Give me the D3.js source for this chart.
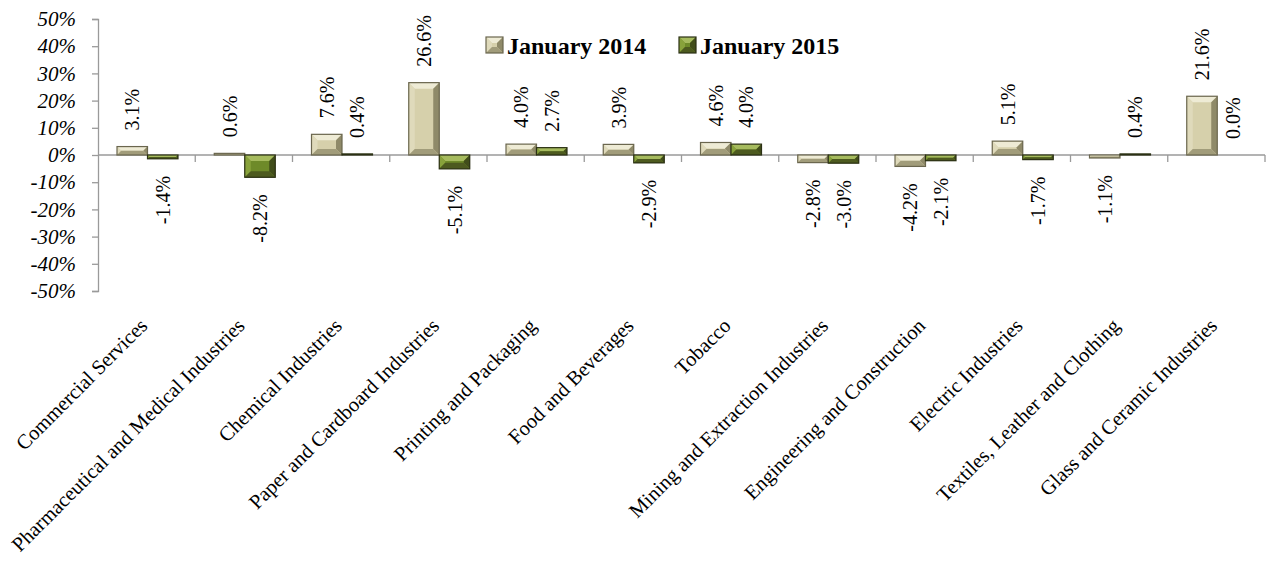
<!DOCTYPE html>
<html>
<head>
<meta charset="utf-8">
<script src="https://cdn.jsdelivr.net/npm/d3@7"></script>
<style>
  body { margin: 0; background: #fff; }
  svg { display: block; }
  text { font-family: "Liberation Serif", "Times New Roman", serif; }
</style>
</head>
<body>
<svg id="chart" width="1266" height="561"></svg>
<script>
const categories = [
  "Commercial Services",
  "Pharmaceutical and Medical Industries",
  "Chemical Industries",
  "Paper and Cardboard Industries",
  "Printing and Packaging",
  "Food and Beverages",
  "Tobacco",
  "Mining and Extraction Industries",
  "Engineering and Construction",
  "Electric Industries",
  "Textiles, Leather and Clothing",
  "Glass and Ceramic Industries"
];
const seriesNames = ["January 2014", "January 2015"];
const jan2014 = [3.1, 0.6, 7.6, 26.6, 4.0, 3.9, 4.6, -2.8, -4.2, 5.1, -1.1, 21.6];
const jan2015 = [-1.4, -8.2, 0.4, -5.1, 2.7, -2.9, 4.0, -3.0, -2.1, -1.7, 0.4, 0.0];
const yTicks = [50, 40, 30, 20, 10, 0, -10, -20, -30, -40, -50];

const palettes = {
  "January 2014": { center: "#d6d0ab", top: "#eeebd5", left: "#dfdabb", right: "#8f8a69", bottom: "#a19c7a", stroke: "#6a664e" },
  "January 2015": { center: "#6e8a29", top: "#a6bb5e", left: "#88a23b", right: "#414d1a", bottom: "#4d5a1f", stroke: "#2b3014" }
};

const svg = d3.select("#chart");
const x0 = d3.scaleBand().domain(categories).range([98, 1265]).padding(0);
const x1 = d3.scaleBand().domain(seriesNames).range([19, 80]).padding(0);
const y = d3.scaleLinear().domain([-50, 50]).range([291, 19]);

// y axis
const yAxis = d3.axisLeft(y).tickValues(yTicks).tickSize(6).tickFormat(d => d + "%");
const gy = svg.append("g").attr("transform", "translate(98,0)").call(yAxis);
gy.attr("font-family", null).attr("font-size", null);
gy.select(".domain").attr("stroke", "#9a9a9a").attr("stroke-width", 1.3);
gy.selectAll(".tick line").attr("stroke", "#9a9a9a").attr("stroke-width", 1.3);
gy.selectAll(".tick text")
  .attr("x", -22)
  .attr("dy", "0.32em")
  .style("font-style", "italic")
  .style("font-size", "21px")
  .attr("fill", "#000");

// x axis at zero
const boundaries = categories.map(c => x0(c)).concat([x0.range()[1]]);
const gx = svg.append("g");
gx.append("line")
  .attr("x1", x0.range()[0]).attr("x2", x0.range()[1])
  .attr("y1", y(0)).attr("y2", y(0))
  .attr("stroke", "#9a9a9a").attr("stroke-width", 1.3);
gx.selectAll("line.tk").data(boundaries.slice(1)).enter().append("line")
  .attr("class", "tk")
  .attr("x1", d => d).attr("x2", d => d)
  .attr("y1", y(0)).attr("y2", y(0) + 7)
  .attr("stroke", "#9a9a9a").attr("stroke-width", 1.3);

// bevel bar drawing
function bevel(g, xa, xb, ya, yb, pal) {
  const w = xb - xa, h = yb - ya;
  const b = Math.max(0, Math.min(6, w / 2, h / 2));
  const p = (pts) => "M" + pts.map(q => q.join(",")).join("L") + "Z";
  g.append("rect").attr("x", xa).attr("y", ya).attr("width", w).attr("height", Math.max(h, 0.01)).attr("fill", pal.center);
  g.append("path").attr("d", p([[xa, ya], [xb, ya], [xb - b, ya + b], [xa + b, ya + b]])).attr("fill", pal.top);
  g.append("path").attr("d", p([[xa, ya], [xa + b, ya + b], [xa + b, yb - b], [xa, yb]])).attr("fill", pal.left);
  g.append("path").attr("d", p([[xb, ya], [xb, yb], [xb - b, yb - b], [xb - b, ya + b]])).attr("fill", pal.right);
  g.append("path").attr("d", p([[xa, yb], [xa + b, yb - b], [xb - b, yb - b], [xb, yb]])).attr("fill", pal.bottom);
  g.append("rect").attr("x", xa).attr("y", ya).attr("width", w).attr("height", Math.max(h, 0.01))
    .attr("fill", "none").attr("stroke", pal.stroke).attr("stroke-width", 1.2);
}

const rows = categories.map((c, i) => ({ cat: c, vals: [
  { s: seriesNames[0], v: jan2014[i] },
  { s: seriesNames[1], v: jan2015[i] }
]}));

const gBars = svg.append("g");
rows.forEach(r => {
  r.vals.forEach(d => {
    const xa = x0(r.cat) + x1(d.s);
    const xb = xa + x1.bandwidth();
    const ya = Math.min(y(d.v), y(0));
    const yb = Math.max(y(d.v), y(0));
    if (yb - ya > 0.2) bevel(gBars.append("g"), xa, xb, ya, yb, palettes[d.s]);
  });
});

// data labels
const gLab = svg.append("g");
rows.forEach(r => {
  r.vals.forEach(d => {
    const cx = x0(r.cat) + x1(d.s) + x1.bandwidth() / 2;
    const pos = d.v >= 0;
    const yy = pos ? y(d.v) - 16 : y(d.v) + 17;
    gLab.append("text")
      .attr("transform", `translate(${cx},${yy}) rotate(-90)`)
      .attr("text-anchor", pos ? "start" : "end")
      .attr("dy", "0.35em")
      .style("font-size", "20px")
      .attr("fill", "#000")
      .text(d.v.toFixed(1) + "%");
  });
});

// category labels
const gCat = svg.append("g");
categories.forEach(c => {
  const cx = x0(c) + x0.bandwidth() / 2;
  gCat.append("text")
    .attr("transform", `translate(${cx + 2},${327}) rotate(-45)`)
    .attr("text-anchor", "end")
    .style("font-size", "20.5px")
    .attr("fill", "#000")
    .text(c);
});

// legend
const legendItems = [
  { s: seriesNames[0], x: 486 },
  { s: seriesNames[1], x: 679 }
];
const gLeg = svg.append("g");
legendItems.forEach(it => {
  bevel(gLeg.append("g"), it.x, it.x + 17, 37, 53, palettes[it.s]);
  gLeg.append("text")
    .attr("x", it.x + 21).attr("y", 54)
    .style("font-weight", "bold")
    .style("font-size", "24px")
    .attr("fill", "#000")
    .text(it.s);
});
</script>
</body>
</html>
